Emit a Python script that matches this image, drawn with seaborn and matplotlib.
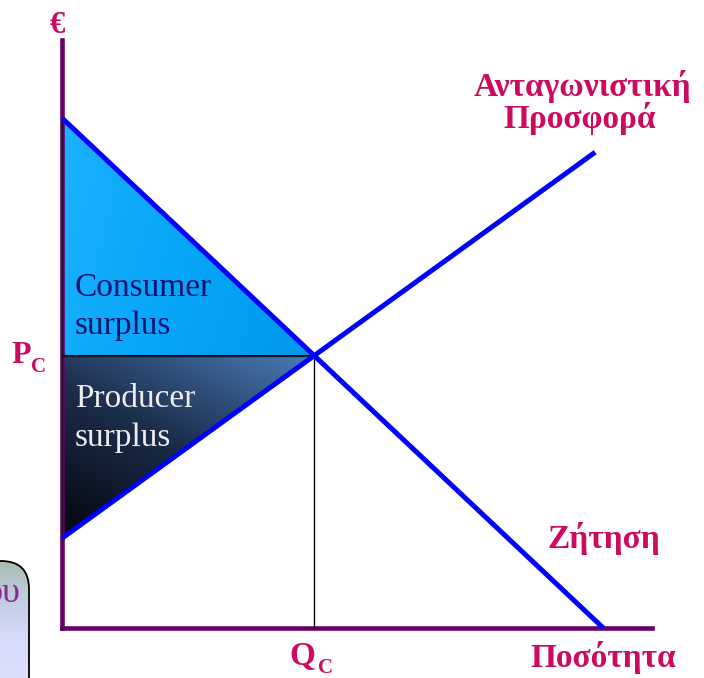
import numpy as np
import pandas as pd
import matplotlib
matplotlib.use("Agg")
import matplotlib.pyplot as plt
from matplotlib.colors import LinearSegmentedColormap
from matplotlib.patches import Polygon, FancyBboxPatch
import seaborn as sns

# ---------------- data ----------------
demand_q = [0.0, 10.0]
demand_p = [10.0, 0.0]
supply_q = [0.0, 9.85]
supply_p = [1.76, 9.33]
eq_q = 4.66
eq_p = 5.34
x_max = 10.9
y_max = 11.53

label_supply = ["Ανταγωνιστική", "Προσφορά"]
label_demand = "Ζήτηση"
label_quantity = "Ποσότητα"
label_euro = "€"
label_cs = ["Consumer", "surplus"]
label_ps = ["Producer", "surplus"]

# ---------------- style ----------------
sns.set_theme(style="white")
plt.rcParams["font.family"] = ["Liberation Serif", "DejaVu Serif"]

W, H = 704, 678
fig = plt.figure(figsize=(W / 100, H / 100), dpi=100)
fig.patch.set_facecolor("white")

def fx(px):
    return px / W

def fy(py):
    return 1 - py / H

ax = fig.add_axes([fx(62), fy(628), (652 - 62) / W, (628 - 40) / H])
ax.set_xlim(0, x_max)
ax.set_ylim(0, y_max)
ax.set_facecolor("none")

purple = "#660066"
crimson = "#cc0a60"
for s in ["top", "right"]:
    ax.spines[s].set_visible(False)
for s in ["left", "bottom"]:
    ax.spines[s].set_color(purple)
    ax.spines[s].set_linewidth(3.3)
    ax.spines[s].set_capstyle("projecting")

# ---------------- surplus triangles with gradients ----------------
cs_poly = [(0, demand_p[0]), (0, eq_p), (eq_q, eq_p)]
ps_poly = [(0, eq_p), (eq_q, eq_p), (0, supply_p[0])]

def gradient_fill(poly, colors, direction):
    xs = [p[0] for p in poly]
    ys = [p[1] for p in poly]
    x0, x1, y0, y1 = min(xs), max(xs), min(ys), max(ys)
    gx, gy = np.meshgrid(np.linspace(0, 1, 200), np.linspace(0, 1, 200))
    t = gx * direction[0] + gy * direction[1]
    t = (t - t.min()) / (t.max() - t.min())
    cmap = LinearSegmentedColormap.from_list("g", colors)
    patch = Polygon(poly, closed=True, facecolor="none", edgecolor="black",
                    lw=1.0, zorder=3)
    ax.add_patch(patch)
    im = ax.imshow(t, extent=(x0, x1, y0, y1), origin="lower", cmap=cmap,
                   aspect="auto", zorder=2, interpolation="bilinear")
    im.set_clip_path(patch)

gradient_fill(cs_poly, ["#1cb2ff", "#06a6f8", "#0098ec"], (1.0, -0.3))
gradient_fill(ps_poly, ["#03060c", "#1c2e4c", "#4a7cb8"], (0.7, 1.0))
ax.set_xlim(0, x_max)
ax.set_ylim(0, y_max)

# guide lines
ax.plot([eq_q, eq_q], [0, eq_p], color="black", lw=1.0, zorder=3)
ax.plot([0, eq_q], [eq_p, eq_p], color="#101820", lw=1.0, zorder=3)

# ---------------- curves ----------------
df_d = pd.DataFrame({"q": demand_q, "p": demand_p})
df_s = pd.DataFrame({"q": supply_q, "p": supply_p})
sns.lineplot(data=df_d, x="q", y="p", ax=ax, color="#0000ff", lw=3.6,
             sort=False, zorder=5, solid_capstyle="butt")
sns.lineplot(data=df_s, x="q", y="p", ax=ax, color="#0000ff", lw=3.6,
             sort=False, zorder=5, solid_capstyle="butt")
for l in ax.lines:
    l.set_clip_on(False)
ax.set_xticks([])
ax.set_yticks([])
ax.set_xlabel("")
ax.set_ylabel("")

# ---------------- texts ----------------
fig.text(fx(75), fy(296), label_cs[0], fontsize=24, color="#0c1470", va="baseline")
fig.text(fx(75), fy(334), label_cs[1], fontsize=24, color="#0c1470", va="baseline")
fig.text(fx(75), fy(407), label_ps[0], fontsize=24, color="#ececec", va="baseline")
fig.text(fx(75), fy(446), label_ps[1], fontsize=24, color="#ececec", va="baseline")

bold = dict(fontweight="bold", color=crimson)
fig.text(fx(57), fy(33), label_euro, fontsize=22, ha="center", va="baseline", **bold)
fig.text(fx(582), fy(96), label_supply[0], fontsize=24, ha="center", va="baseline", **bold)
fig.text(fx(580), fy(128), label_supply[1], fontsize=24, ha="center", va="baseline", **bold)
fig.text(fx(604), fy(548), label_demand, fontsize=24, ha="center", va="baseline", **bold)
fig.text(fx(603), fy(667), label_quantity, fontsize=24, ha="center", va="baseline", **bold)
fig.text(fx(289), fy(665), "Q", fontsize=24, ha="left", va="baseline", **bold)
fig.text(fx(318), fy(673), "C", fontsize=15, ha="left", va="baseline", **bold)
fig.text(fx(11), fy(363), "P", fontsize=23, ha="left", va="baseline", **bold)
fig.text(fx(31), fy(372), "C", fontsize=15, ha="left", va="baseline", **bold)

# ---------------- partial callout box at bottom-left ----------------
ov = fig.add_axes([0, 0, 1, 1], zorder=-1)
ov.set_xlim(0, W)
ov.set_ylim(H, 0)
ov.axis("off")
box = FancyBboxPatch((-40, 561), 69, 160, boxstyle="round,pad=0,rounding_size=28",
                     facecolor="none", edgecolor="black", lw=1.3)
ov.add_patch(box)
gcm = LinearSegmentedColormap.from_list("b", ["#a9bcb2", "#c4cde4", "#d6dbfa", "#dcdffc"])
gimg = np.linspace(0, 1, 120).reshape(-1, 1)
im2 = ov.imshow(gimg, extent=(-40, 29, 680, 561), cmap=gcm, aspect="auto")
im2.set_clip_path(box)
ov.set_xlim(0, W)
ov.set_ylim(H, 0)
ov.text(21, 602, "ου", fontsize=26, color="#8a2a8a", ha="right", va="baseline")

fig.savefig("out.png", dpi=100)
